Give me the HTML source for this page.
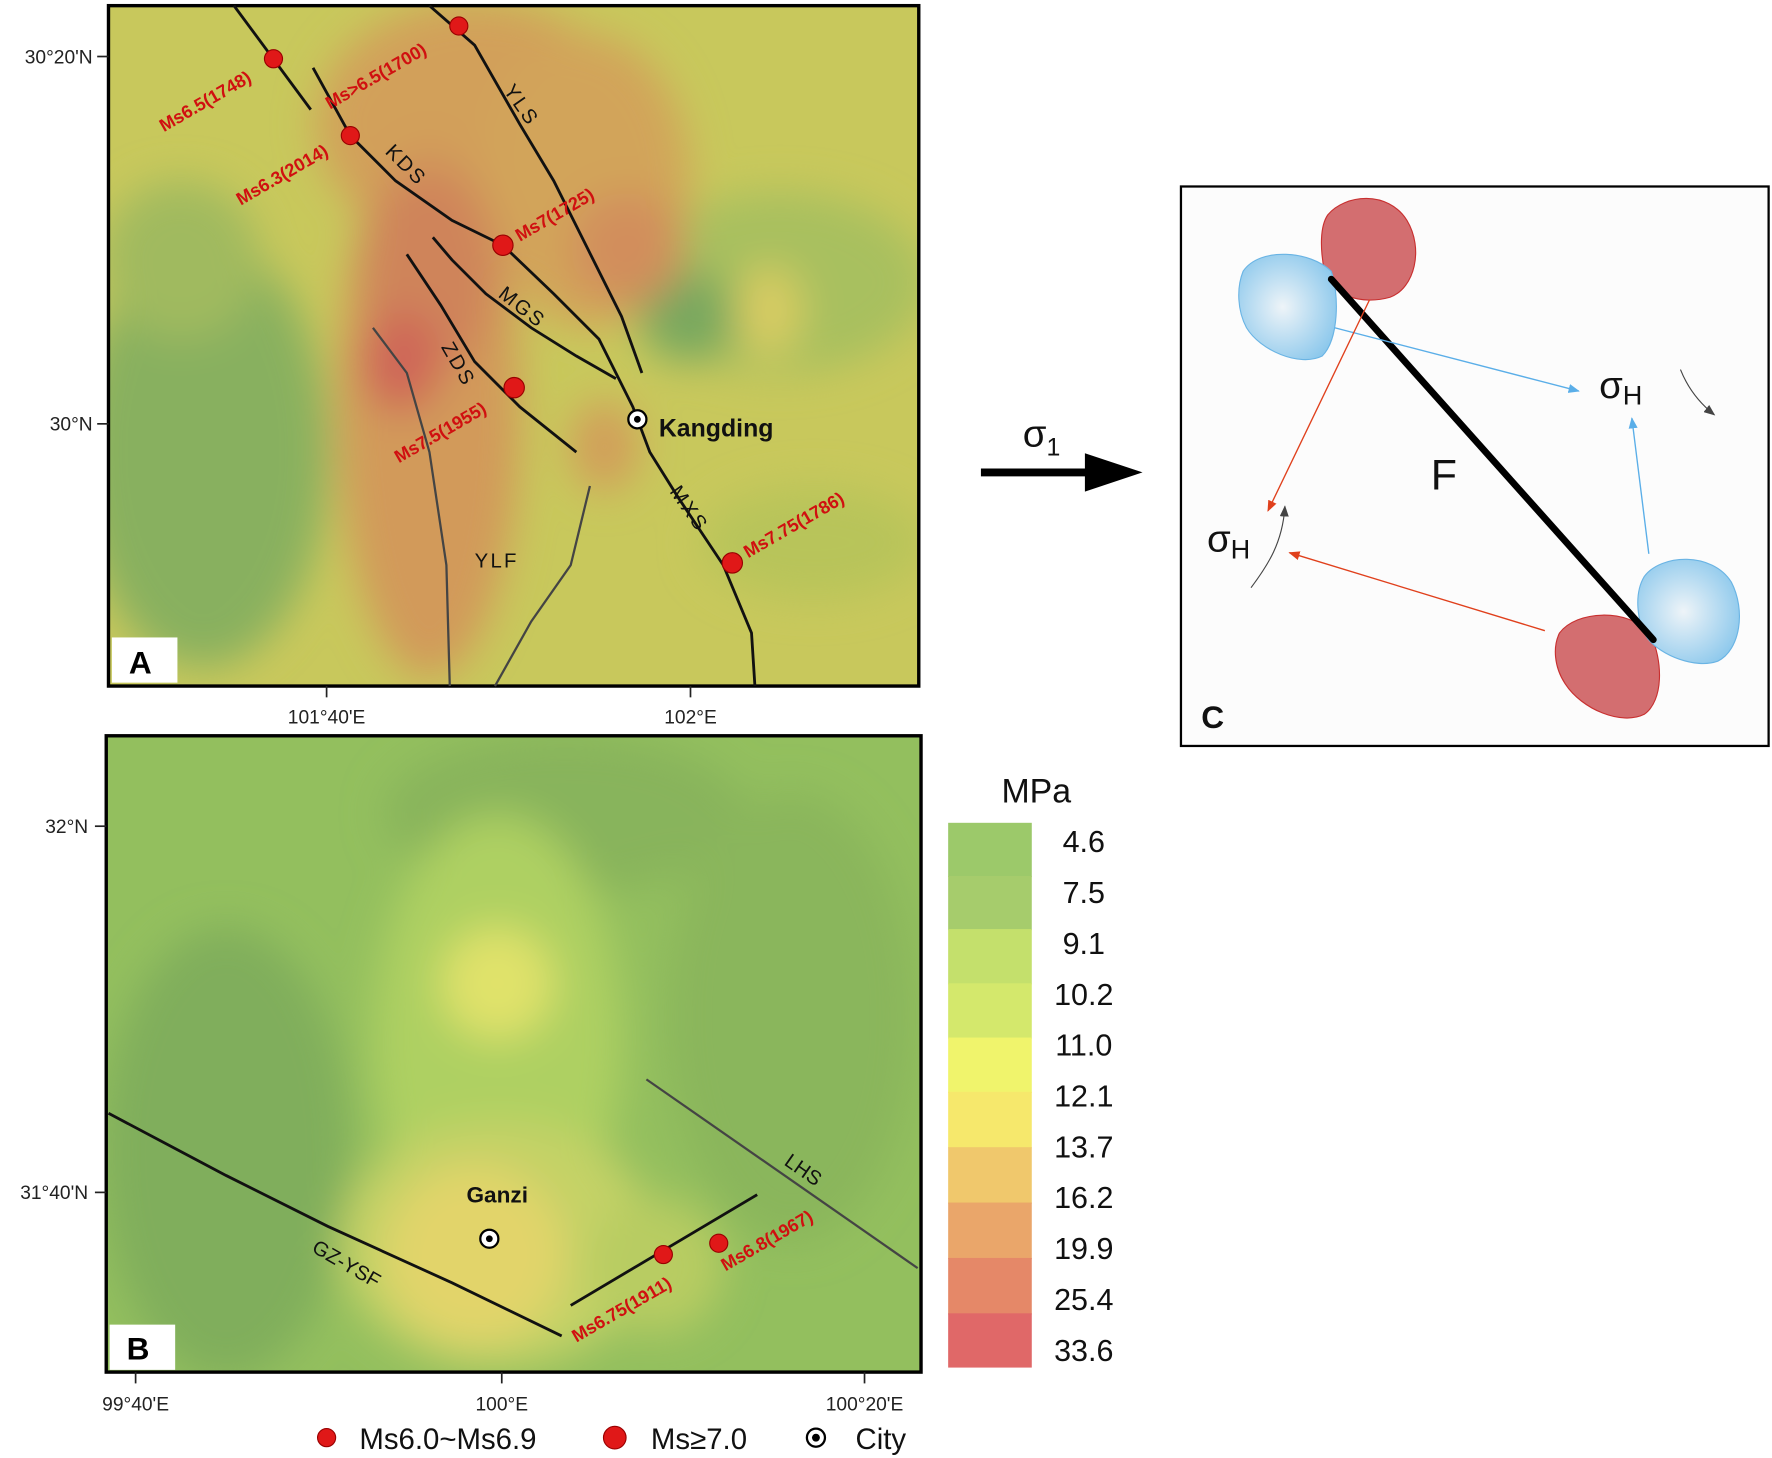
<!DOCTYPE html>
<html><head><meta charset="utf-8"><style>html,body{margin:0;padding:0;background:#fff}svg{display:block}</style></head>
<body>
<svg width="1772" height="1458" viewBox="0 0 1568 1290" preserveAspectRatio="none" xmlns="http://www.w3.org/2000/svg" font-family="Liberation Sans, sans-serif">
<defs>
<filter id="b" x="-50%" y="-50%" width="200%" height="200%"><feGaussianBlur stdDeviation="18"/></filter>
<clipPath id="ca"><rect x="96" y="5" width="717" height="602"/></clipPath>
<clipPath id="cb"><rect x="94" y="651" width="721" height="563"/></clipPath>
<radialGradient id="bl" cx="0.45" cy="0.5" r="0.6"><stop offset="0" stop-color="#eef4f8"/><stop offset="1" stop-color="#8cc8ec"/></radialGradient>
<marker id="ab" markerWidth="10" markerHeight="8" refX="9" refY="4" orient="auto" markerUnits="userSpaceOnUse"><path d="M0,0 L10,4 L0,8 z" fill="#5aaee8"/></marker>
<marker id="ar" markerWidth="10" markerHeight="8" refX="9" refY="4" orient="auto" markerUnits="userSpaceOnUse"><path d="M0,0 L10,4 L0,8 z" fill="#e0401c"/></marker>
<marker id="ak" markerWidth="10" markerHeight="8" refX="9" refY="4" orient="auto" markerUnits="userSpaceOnUse"><path d="M0,0 L10,4 L0,8 z" fill="#444"/></marker>
</defs>

<!-- Panel A -->
<g clip-path="url(#ca)">
<rect x="96" y="5" width="717" height="602" fill="#c8c85c"/>
<g filter="url(#b)">
<ellipse cx="180" cy="400" rx="110" ry="190" fill="#88b05e"/>
<ellipse cx="160" cy="230" rx="70" ry="70" fill="#a0ba5e"/>
<ellipse cx="690" cy="250" rx="130" ry="80" fill="#a8c05e"/>
<ellipse cx="610" cy="280" rx="45" ry="40" fill="#78a85e"/>
<ellipse cx="720" cy="480" rx="100" ry="50" fill="#b8c45a"/>
<ellipse cx="420" cy="110" rx="140" ry="110" fill="#d2a05a"/>
<ellipse cx="520" cy="160" rx="90" ry="130" fill="#d2a45a"/>
<ellipse cx="380" cy="360" rx="80" ry="240" fill="#d29a5a"/>
<ellipse cx="380" cy="240" rx="60" ry="90" fill="#cf845a"/>
<ellipse cx="555" cy="220" rx="50" ry="50" fill="#d28e5c"/>
<ellipse cx="355" cy="320" rx="35" ry="45" fill="#cf6658"/>
<ellipse cx="535" cy="395" rx="30" ry="40" fill="#d29e5a"/>
<ellipse cx="680" cy="275" rx="30" ry="40" fill="#d8cc62"/>
</g>
</g>
<rect x="96" y="5" width="717" height="602" fill="none" stroke="#000" stroke-width="3"/>
<rect x="99" y="564" width="58" height="40" fill="#fff"/>
<text x="114" y="596" font-size="28" font-weight="bold">A</text>
<g fill="none" stroke="#111" stroke-width="2.5">
<path d="M207,5 L275,97"/>
<path d="M277,60 L310,120 L350,160 L400,195 L445,217 L490,260 L530,300 L560,360 L575,400 L600,440 L640,500 L665,560 L668,607"/>
<path d="M380,5 L420,40 L460,110 L490,160 L520,220 L550,280 L568,330"/>
<path d="M383,210 L400,230 L430,260 L470,290 L510,315 L545,335"/>
<path d="M360,225 L390,270 L420,320 L460,360 L510,400"/>
</g>
<g fill="none" stroke="#444" stroke-width="2">
<path d="M330,290 L360,330 L380,400 L395,500 L398,607"/>
<path d="M522,430 L505,500 L470,550 L438,607"/>
</g>
<g font-size="18" fill="#111" letter-spacing="2">
<text transform="translate(445,80) rotate(55)">YLS</text>
<text transform="translate(340,135) rotate(45)">KDS</text>
<text transform="translate(440,262) rotate(38)">MGS</text>
<text transform="translate(390,307) rotate(60)">ZDS</text>
<text transform="translate(592,435) rotate(55)">MXS</text>
<text x="420" y="502">YLF</text>
</g>
<g fill="#e01818" stroke="#900" stroke-width="1">
<circle cx="406" cy="23" r="8"/><circle cx="242" cy="52" r="8"/><circle cx="310" cy="120" r="8"/>
<circle cx="445" cy="217" r="9"/><circle cx="455" cy="343" r="9"/><circle cx="648" cy="498" r="9"/>
</g>
<g font-size="16" font-weight="bold" fill="#d01010">
<text transform="translate(145,117) rotate(-30)">Ms6.5(1748)</text>
<text transform="translate(292,97) rotate(-30)">Ms&gt;6.5(1700)</text>
<text transform="translate(213,182) rotate(-30)">Ms6.3(2014)</text>
<text transform="translate(460,214) rotate(-30)">Ms7(1725)</text>
<text transform="translate(353,410) rotate(-30)">Ms7.5(1955)</text>
<text transform="translate(662,494) rotate(-30)">Ms7.75(1786)</text>
</g>
<circle cx="564" cy="371" r="8" fill="#fff" stroke="#000" stroke-width="2"/><circle cx="564" cy="371" r="3" fill="#000"/>
<text x="583" y="386" font-size="22" font-weight="bold" fill="#111">Kangding</text>
<g font-size="17" fill="#222">
<text x="82" y="56" text-anchor="end">30°20'N</text>
<text x="82" y="381" text-anchor="end">30°N</text>
<text x="289" y="640" text-anchor="middle">101°40'E</text>
<text x="611" y="640" text-anchor="middle">102°E</text>
</g>
<g stroke="#222" stroke-width="1.5"><line x1="86" y1="50" x2="96" y2="50"/><line x1="86" y1="375" x2="96" y2="375"/><line x1="289" y1="607" x2="289" y2="617"/><line x1="611" y1="607" x2="611" y2="617"/></g>

<!-- Panel B -->
<g clip-path="url(#cb)">
<rect x="94" y="651" width="721" height="563" fill="#93bf5e"/>
<g filter="url(#b)">
<ellipse cx="200" cy="1020" rx="110" ry="200" fill="#80ae5c"/>
<ellipse cx="500" cy="720" rx="160" ry="70" fill="#88b45c"/>
<ellipse cx="700" cy="900" rx="110" ry="200" fill="#8ab65c"/>
<ellipse cx="440" cy="920" rx="110" ry="200" fill="#aed062"/>
<ellipse cx="440" cy="1100" rx="140" ry="110" fill="#c4d266"/>
<ellipse cx="440" cy="870" rx="50" ry="50" fill="#e0e26a"/>
<ellipse cx="420" cy="1110" rx="80" ry="80" fill="#e2d46a"/>
<ellipse cx="580" cy="1120" rx="60" ry="60" fill="#b8cc62"/>
</g>
</g>
<rect x="94" y="651" width="721" height="563" fill="none" stroke="#000" stroke-width="3"/>
<rect x="97" y="1172" width="58" height="40" fill="#fff"/>
<text x="112" y="1203" font-size="28" font-weight="bold">B</text>
<path d="M96,985 L200,1040 L290,1085 L400,1135 L497,1182" fill="none" stroke="#111" stroke-width="2.5"/>
<path d="M505,1155 L670,1057" fill="none" stroke="#111" stroke-width="2.5"/>
<path d="M572,955 L812,1122" fill="none" stroke="#444" stroke-width="2"/>
<text transform="translate(275,1107) rotate(30)" font-size="18" fill="#111">GZ-YSF</text>
<text transform="translate(693,1030) rotate(35)" font-size="18" fill="#111">LHS</text>
<g fill="#e01818" stroke="#900" stroke-width="1"><circle cx="587" cy="1110" r="8"/><circle cx="636" cy="1100" r="8"/></g>
<g font-size="16" font-weight="bold" fill="#d01010">
<text transform="translate(510,1188) rotate(-30)">Ms6.75(1911)</text>
<text transform="translate(642,1125) rotate(-30)">Ms6.8(1967)</text>
</g>
<circle cx="433" cy="1096" r="8" fill="#fff" stroke="#000" stroke-width="2"/><circle cx="433" cy="1096" r="3" fill="#000"/>
<text x="440" y="1064" font-size="20" font-weight="bold" fill="#111" text-anchor="middle">Ganzi</text>
<g font-size="17" fill="#222">
<text x="78" y="737" text-anchor="end">32°N</text>
<text x="78" y="1061" text-anchor="end">31°40'N</text>
<text x="120" y="1248" text-anchor="middle">99°40'E</text>
<text x="444" y="1248" text-anchor="middle">100°E</text>
<text x="765" y="1248" text-anchor="middle">100°20'E</text>
</g>
<g stroke="#222" stroke-width="1.5"><line x1="84" y1="731" x2="94" y2="731"/><line x1="84" y1="1055" x2="94" y2="1055"/><line x1="120" y1="1214" x2="120" y2="1224"/><line x1="444" y1="1214" x2="444" y2="1224"/><line x1="765" y1="1214" x2="765" y2="1224"/></g>

<!-- Colorbar -->
<text x="917" y="710" font-size="30" text-anchor="middle" fill="#111">MPa</text>
<g>
<rect x="839" y="728" width="74" height="48" fill="#9cc96a"/>
<rect x="839" y="775" width="74" height="48" fill="#a6cc6c"/>
<rect x="839" y="822" width="74" height="49" fill="#c4e06c"/>
<rect x="839" y="870" width="74" height="49" fill="#d4e86c"/>
<rect x="839" y="918" width="74" height="49" fill="#f0f46c"/>
<rect x="839" y="966" width="74" height="50" fill="#f6e86c"/>
<rect x="839" y="1015" width="74" height="50" fill="#f0c86c"/>
<rect x="839" y="1064" width="74" height="50" fill="#eaa66a"/>
<rect x="839" y="1113" width="74" height="50" fill="#e58868"/>
<rect x="839" y="1162" width="74" height="48" fill="#e06868"/>
</g>
<g font-size="27" fill="#111" text-anchor="middle">
<text x="959" y="754">4.6</text><text x="959" y="799">7.5</text><text x="959" y="844">9.1</text>
<text x="959" y="889">10.2</text><text x="959" y="934">11.0</text><text x="959" y="979">12.1</text>
<text x="959" y="1024">13.7</text><text x="959" y="1069">16.2</text><text x="959" y="1114">19.9</text>
<text x="959" y="1159">25.4</text><text x="959" y="1204">33.6</text>
</g>

<!-- Legend -->
<circle cx="289" cy="1272" r="8" fill="#e01818" stroke="#900"/>
<text x="318" y="1282" font-size="26" fill="#111">Ms6.0~Ms6.9</text>
<circle cx="544" cy="1272" r="10" fill="#e01818" stroke="#900"/>
<text x="576" y="1282" font-size="26" fill="#111">Ms≥7.0</text>
<circle cx="722" cy="1272" r="8" fill="#fff" stroke="#000" stroke-width="2"/><circle cx="722" cy="1272" r="3.5" fill="#000"/>
<text x="757" y="1282" font-size="26" fill="#111">City</text>

<!-- Sigma1 arrow -->
<line x1="868" y1="418" x2="965" y2="418" stroke="#000" stroke-width="7"/>
<path d="M960,401 L1011,418 L960,435 z" fill="#000"/>
<text x="905" y="395" font-size="34" fill="#111">σ<tspan font-size="22" dy="8">1</tspan></text>

<!-- Panel C -->
<rect x="1045" y="165" width="520" height="495" fill="#fcfcfc" stroke="#000" stroke-width="2"/>
<path d="M1175,190 C1190,172 1228,168 1245,195 C1260,220 1252,255 1230,263 C1205,270 1178,262 1172,240 C1168,220 1168,200 1175,190z" fill="#d36e70" stroke="#c83030" stroke-width="1"/>
<path d="M1100,240 C1115,218 1160,222 1178,240 C1185,260 1185,300 1170,315 C1150,325 1115,310 1103,290 C1095,275 1094,255 1100,240z" fill="url(#bl)" stroke="#6ab4e4" stroke-width="1"/>
<path d="M1380,560 C1395,540 1440,538 1460,560 C1472,585 1472,620 1455,632 C1435,642 1400,628 1385,605 C1375,590 1374,572 1380,560z" fill="#d36e70" stroke="#c83030" stroke-width="1"/>
<path d="M1455,510 C1470,490 1515,488 1532,515 C1545,540 1540,575 1520,585 C1500,592 1470,580 1458,565 C1448,550 1446,525 1455,510z" fill="url(#bl)" stroke="#6ab4e4" stroke-width="1"/>
<line x1="1178" y1="247" x2="1463" y2="566" stroke="#000" stroke-width="6" stroke-linecap="round"/>
<line x1="1181" y1="290" x2="1397" y2="346" stroke="#5aaee8" stroke-width="1.2" marker-end="url(#ab)"/>
<line x1="1459" y1="490" x2="1444" y2="370" stroke="#5aaee8" stroke-width="1.2" marker-end="url(#ab)"/>
<line x1="1212" y1="265" x2="1122" y2="452" stroke="#e0401c" stroke-width="1.2" marker-end="url(#ar)"/>
<line x1="1367" y1="558" x2="1141" y2="489" stroke="#e0401c" stroke-width="1.2" marker-end="url(#ar)"/>
<path d="M1107,520 C1122,500 1135,480 1137,448" fill="none" stroke="#444" stroke-width="1" marker-end="url(#ak)"/>
<path d="M1487,327 C1493,342 1503,356 1517,367" fill="none" stroke="#444" stroke-width="1" marker-end="url(#ak)"/>
<text x="1415" y="352" font-size="34" fill="#111">σ<tspan font-size="24" dy="6">H</tspan></text>
<text x="1068" y="488" font-size="34" fill="#111">σ<tspan font-size="24" dy="6">H</tspan></text>
<text x="1266" y="433" font-size="38" fill="#111">F</text>
<text x="1063" y="644" font-size="28" font-weight="bold" fill="#111">C</text>
</svg>
</body></html>
